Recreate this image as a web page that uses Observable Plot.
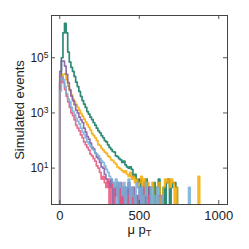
<!DOCTYPE html>
<html>
<head>
<meta charset="utf-8">
<script src="https://cdn.jsdelivr.net/npm/d3@7"></script>
<script src="https://cdn.jsdelivr.net/npm/@observablehq/plot@0.6"></script>
<style>
  html, body { margin: 0; padding: 0; background: #fff; }
</style>
</head>
<body>
<div id="chart"></div>
<script>
// Histogram bins: left edges at binStart + i * binWidth (muon pT)
const binWidth = 10;
const binStart = 0;
const seriesNames = ["green", "orange", "purple", "pink", "blue"];
const seriesColors = ["#0b775e", "#f4a800", "#7e57a4", "#e8537a", "#72aed8"];

const green = [13000,100000,800000,1780000,800000,160000,70000,45000,32000,21000,
  13000,9000,6000,4000,2800,2100,1600,1120,900,700,
  575,450,360,280,225,190,150,126,100,89,
  70,56,48,40,38,28,26,22,20,16,
  18,13,11,10,11,9,5,6,4,3,
  4,2,1,3,4,0,2,0,0,3,
  0,2,4,0,0,2,0,3,4,0,
  2,3,3,2,0,0,0,0,0,0];
const orange = [14000,21000,25000,26000,16000,9300,6300,4500,3200,2600,
  2000,1600,1230,950,760,600,470,380,300,240,
  178,151,126,100,71,66,52,45,38,34,
  28,25,20,19,16,14,11,10,9,8,
  7,8,6,5,7,4,5,3,4,2,
  3,5,2,4,1,3,0,2,3,0,
  0,2,3,0,1,2,4,3,4,2,
  4,3,0,2,0,0,0,0,0,0,
  0,0,0,0,0,0,0,5,0,0];
const purple = [32000,76000,75000,50000,25000,12500,7000,4100,2800,2000,
  1260,1000,700,560,450,280,200,140,112,80,
  56,50,35,25,22,16,11,10,6,4,
  3,2,4,0,2,1,3,0,2,0,
  1,2,0,3,0,0,2,0,1,0,
  2,0,0,1,0,0,2,0,0,0];
const pink = [12500,20000,12500,7000,4000,2500,1600,1000,800,560,
  355,280,225,160,126,89,70,56,45,32,
  28,22,18,12,10,7,4,5,3,2,
  4,0,2,3,0,1,2,0,3,0,
  2,0,1,0,0,2,0,1,0,0,
  1,0,2,0,0,0,1,0,0,0,
  0,0,1,1,0,0,0,0,0,0];
const blue = [6300,19000,16000,9000,5000,3200,2500,1600,1120,890,
  630,500,400,280,200,166,126,89,76,63,
  50,45,35,32,28,22,18,16,12,9,
  7,5,4,3,2,4,0,3,2,1,
  3,0,2,4,0,2,1,0,3,2,
  0,2,0,1,3,0,0,2,0,1,
  0,2,0,0,1,0,0,0,0,0,
  0,0,0,0,0,0,0,0,0,0,
  0,2,0,0,0,0,0,0,0,0];

const xTicks = [0, 500, 1000];
const yTicks = [10, 1000, 100000];
const xDomain = [-52, 1055];
const yDomain = [0.48, 3.4e6];

const floorValue = 0.05; // below the visible domain: empty bins drop out of the frame
const allSeries = [green, orange, purple, pink, blue];

function toSteps(counts, name) {
  const rows = [{series: name, x: binStart, y: floorValue}];
  counts.forEach((c, i) => rows.push({series: name, x: binStart + i * binWidth, y: c > 0 ? c : floorValue}));
  rows.push({series: name, x: binStart + counts.length * binWidth, y: floorValue});
  return rows;
}

const fmtY = d => "10^" + Math.round(Math.log10(d));

const lineMarks = allSeries.map((arr, k) =>
  Plot.line(toSteps(arr, seriesNames[k]), {
    x: "x", y: "y", curve: "step-after",
    stroke: seriesColors[k], strokeWidth: 1.7, strokeOpacity: 0.85, clip: true
  })
);

const chart = Plot.plot({
  width: 249,
  height: 249,
  marginLeft: 51,
  marginRight: 22,
  marginTop: 15,
  marginBottom: 45,
  style: {fontFamily: "'Liberation Sans', Arial, sans-serif", fontSize: "13px", background: "#fff", color: "#222"},
  x: {domain: xDomain},
  y: {type: "log", domain: yDomain},
  marks: [
    ...lineMarks,
    Plot.axisX({ticks: xTicks, tickSize: 0, tickPadding: 6, tickFormat: d => String(d), label: "μ pT", labelAnchor: "center", labelArrow: "none", labelOffset: 29, fontSize: 13}),
    Plot.axisY({ticks: yTicks, tickSize: 0, tickPadding: 3, tickFormat: fmtY, label: "Simulated events", labelAnchor: "center", labelArrow: "none", labelOffset: 37, fontSize: 13}),
    // inward ticks on all four sides
    Plot.ruleX(xTicks, {x: d => d, y1: yDomain[0], y2: yDomain[0], insetTop: -4, stroke: "#555"}),
    Plot.ruleX(xTicks, {x: d => d, y1: yDomain[1], y2: yDomain[1], insetBottom: -4, stroke: "#555"}),
    Plot.ruleY(yTicks, {y: d => d, x1: xDomain[0], x2: xDomain[0], insetRight: -4, stroke: "#555"}),
    Plot.ruleY(yTicks, {y: d => d, x1: xDomain[1], x2: xDomain[1], insetLeft: -4, stroke: "#555"}),
    Plot.frame({stroke: "#444", strokeWidth: 1})
  ]
});

const NS = "http://www.w3.org/2000/svg";
chart.querySelectorAll("text").forEach(t => {
  const target = t.querySelector("tspan") || t;
  const s = t.textContent;
  if (s === "μ pT") {
    target.textContent = "";
    const a = document.createElementNS(NS, "tspan");
    a.textContent = "μ p";
    const b = document.createElementNS(NS, "tspan");
    b.textContent = "T";
    b.setAttribute("font-size", "9.5");
    b.setAttribute("baseline-shift", "-20%");
    target.appendChild(a);
    target.appendChild(b);
  } else {
    const m = /^10\^(\d+)$/.exec(s);
    if (m) {
      target.textContent = "";
      const a = document.createElementNS(NS, "tspan");
      a.textContent = "10";
      a.setAttribute("font-size", "12");
      const b = document.createElementNS(NS, "tspan");
      b.textContent = m[1];
      b.setAttribute("font-size", "8.5");
      b.setAttribute("baseline-shift", "45%");
      target.appendChild(a);
      target.appendChild(b);
    }
  }
});

document.getElementById("chart").appendChild(chart);
</script>
</body>
</html>
